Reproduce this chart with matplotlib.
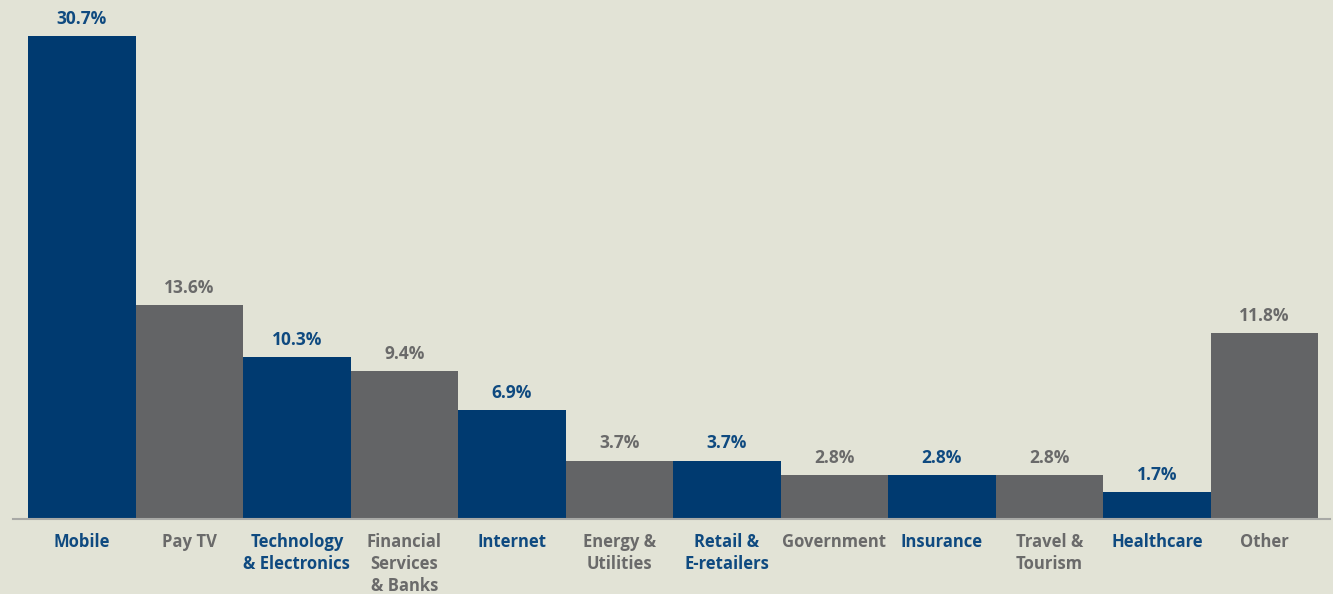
import matplotlib.pyplot as plt

categories = ["Mobile", "Pay TV", "Technology\n& Electronics", "Financial\nServices\n& Banks",
              "Internet", "Energy &\nUtilities", "Retail &\nE-retailers", "Government",
              "Insurance", "Travel &\nTourism", "Healthcare", "Other"]
values = [30.7, 13.6, 10.3, 9.4, 6.9, 3.7, 3.7, 2.8, 2.8, 2.8, 1.7, 11.8]

navy = "#003a70"
grey = "#636466"
navy_txt = "#0f4a80"
grey_txt = "#6a6a6a"
bg = "#e2e3d6"

plt.rcParams['font.family'] = ['Open Sans', 'DejaVu Sans']

fig = plt.figure(figsize=(13.33, 5.94), dpi=100, facecolor=bg)
ax = fig.add_axes([13 / 1333, 75 / 594, 1317 / 1333, 519 / 594])
ax.set_facecolor(bg)

x = list(range(len(values)))
bar_cols = [navy if i % 2 == 0 else grey for i in x]
txt_cols = [navy_txt if i % 2 == 0 else grey_txt for i in x]
ax.bar(x, values, width=1.0, color=bar_cols)

for i, v in enumerate(values):
    ax.annotate(f"{v}%", (i, v), xytext=(0, 6), textcoords="offset points",
                ha="center", va="bottom", fontsize=12.5, fontweight="bold", color=txt_cols[i])
    ax.annotate(categories[i], (i, 0), xytext=(0, -10), textcoords="offset points",
                ha="center", va="top", fontsize=12, fontweight="bold", color=txt_cols[i],
                linespacing=1.3, annotation_clip=False)

ax.set_xlim(-0.64, 11.61)
ax.set_ylim(0, 33.0)
for s in ["top", "right", "left"]:
    ax.spines[s].set_visible(False)
ax.spines["bottom"].set_color("#a8a9a6")
ax.spines["bottom"].set_linewidth(1.5)
ax.set_xticks([])
ax.set_yticks([])

fig.savefig("out.png", dpi=100, facecolor=bg)
